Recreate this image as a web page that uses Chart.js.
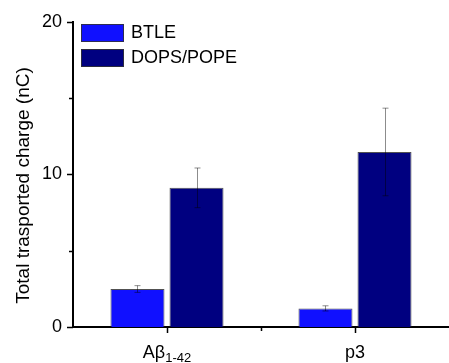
<!DOCTYPE html>
<html>
<head>
<meta charset="utf-8">
<script src="https://cdn.jsdelivr.net/npm/chart.js@4"></script>
<style>
  html, body { margin: 0; padding: 0; background: #fff; }
  #wrap { width: 449px; height: 363px; }
</style>
</head>
<body>
<div id="wrap"><canvas id="chart"></canvas></div>
<script>
const categoryNames = ['Aβ', 'p3'];
const categorySubs = ['1-42', ''];
const btleValues = [2.49, 1.22];
const btleErrors = [0.22, 0.17];
const dopsValues = [9.12, 11.47];
const dopsErrors = [1.3, 2.87];
const yMajorTicks = [0, 10, 20];
const yMinorTicks = [5, 15];
const seriesNames = ['BTLE', 'DOPS/POPE'];

const COLORS = {
  btle: '#1010ff',
  dops: '#000080',
  border: 'rgba(50, 50, 50, 0.85)',
  errBar: 'rgba(0, 0, 0, 0.45)',
};
const FONT = '"Liberation Sans", Arial, sans-serif';

const errorBars = {
  id: 'errorBars',
  afterDatasetsDraw(chart) {
    const ctx = chart.ctx;
    const y = chart.scales.y;
    ctx.save();
    ctx.strokeStyle = COLORS.errBar;
    ctx.lineWidth = 1;
    chart.data.datasets.forEach((ds, i) => {
      chart.getDatasetMeta(i).data.forEach((bar, j) => {
        const v = ds.data[j], e = ds.errors[j];
        const x = Math.round(bar.x) + 0.5;
        const top = y.getPixelForValue(v + e);
        const bot = y.getPixelForValue(v - e);
        ctx.beginPath();
        ctx.moveTo(x, top); ctx.lineTo(x, bot);
        ctx.moveTo(x - 3, top); ctx.lineTo(x + 3, top);
        ctx.moveTo(x - 3, bot); ctx.lineTo(x + 3, bot);
        ctx.stroke();
      });
    });
    ctx.restore();
  },
};

const extras = {
  id: 'extras',
  afterDraw(chart) {
    const ctx = chart.ctx;
    const { x, y } = chart.scales;
    const area = chart.chartArea;
    ctx.save();
    ctx.strokeStyle = '#000';
    ctx.lineWidth = 1.5;

    // tick marks (major 6px, minor 4px), all outward
    ctx.beginPath();
    yMajorTicks.forEach((t) => {
      const py = Math.round(y.getPixelForValue(t)) + 0.5;
      ctx.moveTo(area.left - 6, py); ctx.lineTo(area.left, py);
    });
    yMinorTicks.forEach((t) => {
      const py = Math.round(y.getPixelForValue(t)) + 0.5;
      ctx.moveTo(area.left - 4, py); ctx.lineTo(area.left, py);
    });
    categoryNames.forEach((_, i) => {
      const px = Math.round(x.getPixelForValue(i)) + 0.5;
      ctx.moveTo(px, area.bottom); ctx.lineTo(px, area.bottom + 6);
      if (i < categoryNames.length - 1) {
        const mx = Math.round(x.getPixelForValue(i + 0.5)) + 0.5;
        ctx.moveTo(mx, area.bottom); ctx.lineTo(mx, area.bottom + 4);
      }
    });
    ctx.stroke();

    // category labels with subscript
    ctx.fillStyle = '#000';
    ctx.textBaseline = 'alphabetic';
    categoryNames.forEach((name, i) => {
      ctx.font = `18px ${FONT}`;
      const w1 = ctx.measureText(name).width;
      ctx.font = `13px ${FONT}`;
      const w2 = categorySubs[i] ? ctx.measureText(categorySubs[i]).width : 0;
      const cx = x.getPixelForValue(i);
      const sx = cx - (w1 + w2) / 2;
      ctx.font = `18px ${FONT}`;
      ctx.textAlign = 'left';
      ctx.fillText(name, sx, 358);
      if (w2) {
        ctx.font = `13px ${FONT}`;
        ctx.fillText(categorySubs[i], sx + w1, 362);
      }
    });

    // y axis title
    ctx.save();
    ctx.translate(28.5, 185.5);
    ctx.rotate(-Math.PI / 2);
    ctx.font = `19px ${FONT}`;
    ctx.textAlign = 'center';
    ctx.fillText('Total trasported charge (nC)', 0, 0);
    ctx.restore();

    // legend
    const boxColors = [COLORS.btle, COLORS.dops];
    seriesNames.forEach((name, i) => {
      const by = 24 + i * 25;
      ctx.fillStyle = boxColors[i];
      ctx.fillRect(81, by, 43, 18);
      ctx.strokeStyle = COLORS.border;
      ctx.lineWidth = 1;
      ctx.strokeRect(81.5, by + 0.5, 42, 17);
      ctx.fillStyle = '#000';
      ctx.font = `18px ${FONT}`;
      ctx.textAlign = 'left';
      ctx.textBaseline = 'middle';
      ctx.fillText(name, 131, by + 9.5);
    });
    ctx.restore();
  },
};

new Chart(document.getElementById('chart'), {
  type: 'bar',
  data: {
    labels: categoryNames.map((n, i) => n + categorySubs[i]),
    datasets: [
      {
        label: seriesNames[0],
        data: btleValues,
        errors: btleErrors,
        backgroundColor: COLORS.btle,
        borderColor: COLORS.border,
        borderWidth: 1,
        categoryPercentage: 0.628,
        barPercentage: 0.915,
      },
      {
        label: seriesNames[1],
        data: dopsValues,
        errors: dopsErrors,
        backgroundColor: COLORS.dops,
        borderColor: COLORS.border,
        borderWidth: 1,
        categoryPercentage: 0.628,
        barPercentage: 0.915,
      },
    ],
  },
  options: {
    responsive: true,
    maintainAspectRatio: false,
    animation: false,
    layout: { padding: { top: 20, right: 0, bottom: 0, left: 0 } },
    plugins: {
      legend: { display: false },
      tooltip: { enabled: false },
    },
    scales: {
      x: {
        afterFit: (s) => { s.height = 36; },
        border: { display: true, color: '#000', width: 2 },
        grid: { display: false, drawTicks: false },
        ticks: { display: false },
      },
      y: {
        min: 0,
        max: 20,
        afterFit: (s) => { s.width = 73; },
        afterBuildTicks: (s) => { s.ticks = yMajorTicks.map((v) => ({ value: v })); },
        border: { display: true, color: '#000', width: 2 },
        grid: { display: false, drawTicks: false },
        ticks: { color: '#000', padding: 11, font: { family: FONT, size: 18 } },
      },
    },
  },
  plugins: [errorBars, extras],
});
</script>
</body>
</html>
